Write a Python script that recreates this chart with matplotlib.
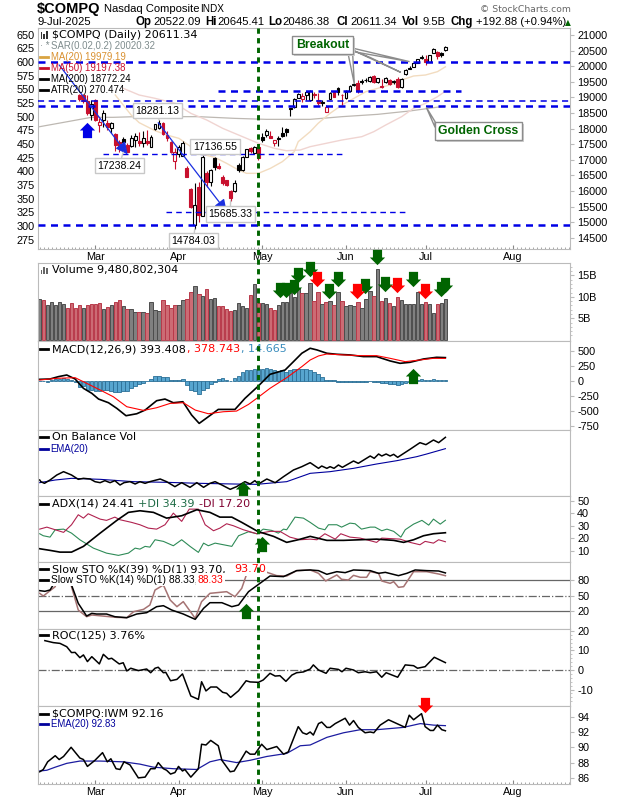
import matplotlib
matplotlib.use('Agg')
import matplotlib.pyplot as plt
import numpy as np
from matplotlib.lines import Line2D
from matplotlib.patches import Polygon, Rectangle
from matplotlib.path import Path

W, H = 620, 800

# candles start at bar 10, the earlier ones sit behind the legend
candle_start = 10
opens = [19076, 19076, 18893, 18434, 18915, 18114, 18274, 18178, 18018, 17825, 17569, 17665, 17472, 17440, 17633, 17601, 17536, 17610, 17418, 17976,
         18018, 18178, 17793, 17578, 16969, 17184, 17129, 16744, 16061, 14907, 16135, 15205, 16584, 16295, 17055, 16799, 16456, 16350, 15997, 15997,
         16831, 16671, 17097, 17367, 17206, 17418, 17738, 17793, 17771, 17527, 17707, 17867, 17986, 18659, 18700, 18989, 18948, 19076, 18915, 19108,
         18925, 18851, 18540, 18948, 19162, 19310, 19085, 18970, 19214, 19387, 19470, 19512, 19566, 19525, 19685, 19502, 19364, 19483, 19557, 19525,
         19579, 19342, 19749, 19942, 19983, 20112, 20294, 20221, 20144, 20432, 20455, 20413, 20522]
highs = [19108, 19108, 19076, 18915, 18948, 18338, 18595, 18274, 18210, 17857, 17633, 17729, 17536, 17793, 17867, 17889, 17921, 17953, 17793, 18146,
         18281, 18210, 17921, 17601, 17376, 17472, 17601, 16799, 16093, 16254, 16295, 17136, 16639, 16703, 17088, 16896, 16510, 16350, 16029, 16350,
         16896, 17120, 17335, 17408, 17440, 17440, 17857, 17986, 17921, 17633, 17761, 18050, 18018, 18659, 18980, 19140, 19140, 19204, 19236, 19172,
         19140, 18915, 18755, 19172, 19204, 19348, 19092, 19236, 19396, 19461, 19557, 19579, 19621, 19685, 19717, 19621, 19589, 19653, 19589, 19557,
         19643, 19605, 19894, 20006, 20134, 20230, 20359, 20359, 20359, 20567, 20487, 20439, 20645]
lows = [18883, 18819, 18434, 18274, 18242, 17899, 18059, 17953, 17857, 17280, 17240, 17312, 17238, 17398, 17408, 17440, 17408, 17472, 17408, 17953,
        17985, 17809, 17601, 17216, 16703, 17088, 17120, 16446, 15452, 14784, 15013, 15195, 16125, 16157, 16671, 16703, 16190, 16157, 15685, 15965,
        16606, 16639, 17088, 17216, 17184, 16991, 17569, 17729, 17697, 17440, 17440, 17729, 17761, 18402, 18659, 18980, 18851, 18915, 18883, 18980,
        18755, 18723, 18530, 18932, 19012, 19076, 18755, 18948, 19172, 19364, 19150, 19429, 19493, 19493, 19461, 19470, 19300, 19461, 19397, 19429,
        19300, 19300, 19733, 19900, 19974, 20086, 20221, 20038, 20134, 20423, 20221, 20310, 20486]
closes = [18938, 18883, 18489, 18787, 18274, 18220, 18508, 18050, 18178, 17472, 17376, 17559, 17250, 17707, 17761, 17536, 17697, 17527, 17739, 18136,
          18178, 17815, 17697, 17257, 17248, 17418, 17546, 16456, 15494, 15549, 15227, 17097, 16295, 16671, 16757, 16725, 16244, 16190, 15763, 16244,
          16671, 17097, 17335, 17289, 17418, 17046, 17633, 17921, 17707, 17633, 17675, 17761, 17880, 18627, 18938, 19098, 19053, 19172, 19188, 19076,
          18810, 18835, 18700, 19130, 19021, 19182, 19069, 19182, 19364, 19429, 19236, 19493, 19547, 19643, 19502, 19611, 19332, 19631, 19429, 19493,
          19342, 19579, 19878, 19923, 20112, 20221, 20275, 20134, 20349, 20541, 20327, 20343, 20611]

ma20_x = [19, 21, 23, 25, 29, 32, 35, 38, 40, 44, 47, 50, 52, 55, 58, 61, 64, 65, 68, 70, 73, 76, 79, 82, 85, 88, 91, 94, 97, 100, 102]
ma20_vals = [19076, 18755, 18434, 18189, 17932, 17793, 17686, 17419, 17205, 17077, 16884, 16670, 16564, 16564, 16724, 16938, 17258, 17579, 17900, 18167,
             18488, 18755, 18969, 19183, 19290, 19397, 19557, 19685, 19717, 19824, 19979]
ma50_x = [21, 25, 29, 34, 38, 42, 46, 50, 55, 59, 62, 65.5, 68, 72, 76, 81, 84, 87, 91, 94, 97, 100, 102]
ma50_vals = [19290, 19076, 18969, 18809, 18488, 18274, 18007, 17793, 17526, 17366, 17290, 17312, 17419, 17526, 17633, 17740, 17900, 18114, 18381, 18648, 18809, 19022, 19197]
ma200_x = [0, 7, 13, 18.5, 24, 32, 40, 49, 57, 68, 76, 85, 93, 102]
ma200_vals = [18060, 18221, 18360, 18360, 18381, 18381, 18381, 18327, 18295, 18295, 18381, 18456, 18563, 18720]

full_levels = [20144, 18733, 14909]
thin_full_levels = [18874]
short_levels = [19214]
short_levels_span = [(44.8, 106)]
thin_short_levels = [17175, 15332]
thin_short_span = [(16, 76.8), (31.8, 92.9)]

trend_starts = [(4.9, 20038), (29.8, 18188)]
trend_ends = [(22.1, 17173), (47, 15334)]

price_notes = ['18281.13', '17238.24', '17136.55', '15685.33', '14784.03']
note_targets = [(30, 18281), (21, 17238), (41, 17136), (48, 15685), (39, 14784)]
note_places = [(29.6, 18573), (20, 16810), (44.1, 17419), (47.9, 15260), (38.6, 14404)]

breakout_tails = [[(77.6, 20359), (78.7, 20359), (79.1, 19429)],
                  [(78.9, 20572), (78.9, 20465), (93, 20145)],
                  [(78.9, 20500), (83, 20284), (90.8, 19800)]]
golden_tail = [(99.4, 18221), (99.4, 18039), (97.2, 18680)]

volumes = [9.6, 9.2, 8.2, 8.7, 8.2, 8.8, 8.4, 7.5, 8.6, 7.5, 8.1, 7.3, 8.0, 8.4, 8.4, 8.6, 7.2, 7.7, 8.0, 8.8,
           9.2, 7.9, 7.1, 7.2, 6.5, 6.5, 6.5, 6.3, 8.8, 7.0, 6.7, 9.2, 8.0, 7.3, 8.0, 8.0, 9.2, 9.6, 11.2, 12.6,
           10.6, 10.2, 11.9, 9.6, 9.8, 7.8, 7.8, 7.2, 6.7, 6.9, 8.6, 7.8, 7.4, 10.5, 13.0, 8.6, 8.6, 8.4, 7.3, 7.0,
           8.2, 8.7, 8.8, 10.8, 10.0, 12.0, 10.8, 10.8, 13.3, 9.1, 11.2, 8.3, 8.8, 9.1, 8.2, 11.2, 9.1, 7.9, 8.1, 7.9,
           8.8, 7.4, 9.5, 11.4, 10.2, 16.6, 9.1, 9.8, 8.6, 7.8, 10.0, 9.3, 8.4, 8.4, 8.4, 11.2, 8.4, 8.8, 8.4, 6.3,
           8.4, 8.6, 9.48]
down_days = [1, 7, 8, 9, 10, 12, 13, 14, 15, 17, 19, 20, 22, 25, 27, 31, 32, 33, 34, 37, 38, 40, 42, 45, 46, 47, 48, 53, 55, 58, 59,
             66, 69, 70, 72, 74, 76, 80, 84, 86, 88, 90, 97, 100]
vol_green_x = [60.3, 62, 64, 65, 68, 72.8, 74.9, 81.8, 84.9, 86.9, 93.9, 100.8, 101.9]
vol_green_y = [11.7, 11.7, 12.2, 15, 16.5, 11.4, 14.1, 12.5, 19.4, 13, 14.1, 11.8, 12.7]
vol_red_x = [69.8, 79.7, 89.9, 96.9]
vol_red_y = [14.1, 11.4, 12.7, 11.4]

macd_x = [0, 2.6, 4.7, 6.8, 8.9, 11, 13.1, 14.8, 17.3, 19.4, 21.7, 24.4, 26.5, 29.4, 31.5, 33.6, 36, 38.2, 40.1, 42.4, 44.9, 47, 49.1, 51.6, 54.8, 57.9, 61.7, 63.8, 65.9, 68,
          69.7, 72.2, 74.7, 78, 81.4, 84.7, 88.1, 90.6, 93.1, 96.5, 99.8, 102]
macd_vals = [28, 34, 73, 101, 34, -123, -207, -303, -365, -460, -583, -550, -488, -331, -303, -365, -348, -572, -712, -600, -477, -477, -477, -292, -95, 112, 185, 325, 466, 550,
             522, 466, 449, 438, 410, 410, 337, 297, 314, 370, 398, 393]
signal_x = [0, 4.3, 8.9, 11.8, 15.2, 18.5, 21.9, 26.1, 29.4, 32.8, 36.1, 39.1, 42.4, 46.2, 49.5, 52.5, 54.8, 57.9, 62.1, 65.9, 68,
            70.1, 72.2, 76.4, 80.6, 84.7, 88.1, 91.9, 95.6, 99, 102]
signal_vals = [17, 45, 56, -39, -151, -264, -432, -494, -449, -376, -365, -488, -550, -516, -505, -393, -280, -123, 56, 241, 353,
               421, 454, 438, 426, 426, 381, 325, 353, 381, 379]
macd_hist = [0, 0, -22, 22, 34, 34, 45, 34, 22, -22, -101, -78, -152, -152, -168, -168, -152, -152, -168, -180,
             -191, -168, -168, -123, -79, -45, -34, 0, 34, 90, 90, 73, 62, 22, 11, 22, 34, -67, -151, -168,
             -224, -151, -112, -56, -11, 34, 45, 22, 0, 56, 90, 157, 179, 185, 196, 196, 202, 213, 196, 185,
             174, 185, 146, 185, 202, 196, 196, 196, 185, 157, 112, 62, 11, 11, 11, -11, -17, -17, -17, -17,
             -17, -17, -17, -6, -17, -22, -34, -34, -45, -50, -67, -56, -34, -17, 6, 11, 34, 11, 11, 34,
             11, 11, 14.7]

# On Balance Volume has no scale in the picture, so these are relative units
obv_x = [0, 0.3, 1.2, 2.6, 4.3, 6, 8, 9.7, 11, 12.7, 13.9, 15.2, 16.4, 17.7, 18.9, 20.2, 21.2, 22.7, 24, 25.2, 26.5, 27.7, 30.3, 31.9, 34, 35.7, 37.8, 39.5, 41.2, 42.8, 44.1, 45.8, 47.9, 49.5, 51.6, 52.9, 54.1, 55, 57.1, 59.2, 61.3, 63.8, 65.9, 68,
         70.1, 70.9, 72.2, 73, 74, 75.1, 76.1, 78.9, 80.1, 83.1, 84.1, 85.2, 86, 87.1, 88.1, 89, 90, 93.1, 95.6, 97.1, 99, 100.3, 102]
obv_vals = [48, 43, 38, 48, 63, 73, 63, 50, 53, 51, 43, 40, 46, 40, 46, 33, 40, 43, 36, 43, 38, 43, 51, 43, 28, 40, 26, 40, 26, 38, 43, 33, 20, 28, 43, 36, 46, 36, 51, 40, 58, 78, 88, 100,
            83, 90, 83, 88, 83, 93, 86, 105, 98, 120, 113, 126, 120, 126, 120, 125, 116, 140, 160, 154, 168, 160, 176]
obv_ema_x = [0, 3.9, 8, 15.2, 23.6, 31.9, 40.3, 48.7, 54.6, 59.2, 62.1, 68, 73, 78.9, 84.7, 89.8, 94.8, 97.3, 102]
obv_ema_vals = [40, 48, 53, 50, 43, 41, 38, 36, 35, 40, 43, 68, 73, 83, 96, 106, 118, 126, 142]

adx_x = [0, 2.6, 5.1, 8, 11, 15.2, 19.4, 22.3, 25.2, 28.6, 31.9, 35.7, 39.5, 42.8, 45.3, 48.3, 50.8, 54.8, 58.8, 62.1, 65, 68, 72.2, 76.4, 80.6, 84.7, 89, 91.5, 94, 96.5, 99, 102]
adx_vals = [11.6, 10.3, 8.9, 8.9, 13.5, 24.1, 34.3, 40.7, 42, 40.7, 36.1, 38, 42.8, 40.7, 36.9, 36.9, 32.7, 25.5, 21.5, 16.7, 18.8, 21.5, 18.3, 18.3, 18.8, 19.3, 18.3, 16.7, 18.8, 22, 23.6, 24.41]
pdi_x = [0, 0.9, 2.6, 3.9, 6, 8, 10.1, 13.5, 16.8, 19.8, 22.3, 24, 25.2, 26.5, 27.7, 29, 31.1, 33.6, 35.7, 37.8, 39.9, 41.2, 42.4, 44.1, 46.2, 48.3, 50, 52.5, 54.6, 56.2, 58.3, 60, 61.3, 62.1, 64.2, 66.3, 68,
         70.1, 71.7, 72.6, 74.7, 75.9, 78, 79.3, 80.9, 83.1, 84.3, 86, 87.3, 89, 90.8, 91.9, 94, 96.1, 97.8, 99, 100.7, 102]
pdi_vals = [23.6, 22, 20.9, 26.8, 27.3, 24.1, 18.8, 12.1, 8.1, 6.3, 8.1, 12.1, 11.3, 13.5, 12.9, 18.8, 17.5, 14, 18.8, 13.5, 8.7, 16.1, 14, 16.1, 14.8, 13.5, 22, 25.2, 23.6, 27.3, 26.3, 24.1, 27.3, 26.8, 36.9, 36.1, 32.7,
            28.1, 26.8, 30.8, 30.8, 28.9, 32.1, 31.6, 27.3, 28.9, 28.9, 26, 27.3, 25.5, 20.9, 26.8, 31.3, 34.3, 30.5, 35.3, 31.3, 34.39]
mdi_x = [0, 1.8, 3.9, 6, 8, 9.7, 11, 12.2, 15.2, 16.8, 18.9, 20.2, 23.1, 25.2, 27.3, 29.4, 31.5, 33.6, 35.7, 37.6, 39.9, 41.6, 43.7, 45.3, 47, 48.7, 51.2, 54.6, 57.9, 60.4, 62.9, 65.5, 68,
         69.7, 71.7, 74.3, 75.7, 78, 80.6, 84.7, 86, 90.6, 93.1, 95.6, 96.9, 99, 100.3, 102]
mdi_vals = [27.3, 28.9, 26.8, 24.7, 30.8, 38.8, 36.1, 39.6, 35.3, 34.3, 36.9, 34.8, 32.7, 30.8, 28.1, 27.3, 30.8, 40.1, 33.5, 43.3, 43.3, 30.8, 26, 28.1, 31.6, 30, 26.8, 23.6, 25.5, 25.5, 20.9, 18.8, 19.3,
            18.8, 23.6, 19.3, 23.6, 20.9, 20.1, 16.7, 20.1, 19.3, 16.7, 14.8, 17.5, 16.1, 18.8, 17.2]

sto39_x = [0, 1.3, 2.6, 3.9, 4.7, 7.2, 8, 9.7, 11.8, 13.1, 14.3, 16.8, 18.9, 21.9, 24.4, 26.9, 29.4, 31.1, 33.2, 36.1, 39.1, 41.2, 42.8, 45.8, 48.3, 50, 52.5, 54.8, 57.9, 61.3, 64.6, 68,
           70.1, 72.2, 74.7, 76.8, 78.9, 83.1, 85.2, 86.9, 90.2, 92.3, 94.4, 97.3, 100.3, 102]
sto39_vals = [59.4, 58.1, 60.6, 76.8, 96, 96, 70.3, 34.8, 10.3, 15.5, 14.2, 14.2, 9, 7.1, 14.2, 16.8, 28.4, 30.3, 21.9, 14.2, 3.9, 25.2, 36.1, 36.1, 28.4, 31.6, 57.4, 70.3, 87.7, 86.5, 98.1, 99.4,
              98.1, 91, 96.1, 94.2, 99.4, 98.1, 92.9, 94.8, 88.4, 92.9, 99.4, 98.1, 97.4, 93.7]
sto14_x = [0, 0.9, 3.9, 4.7, 7.2, 8, 9.7, 11.8, 13.1, 19.4, 21.9, 23.6, 26.1, 27.7, 29, 31.1, 32.8, 34.5, 36.1, 39.1, 40.7, 42.8, 47, 49.1, 50.8, 52.1, 54.1, 56.7, 59.6, 62.1, 64.6, 68,
           70.1, 71.9, 74.7, 75.9, 77.6, 78.9, 80.6, 82.2, 83.1, 85.2, 86, 88.1, 89, 90.2, 91.5, 94, 97.3, 100.3, 102]
sto14_vals = [54.2, 49, 67.1, 92.9, 92.9, 67.1, 21.9, 9, 12.3, 7.7, 7.1, 18.7, 23.2, 31.6, 60.6, 70.3, 41.3, 28.4, 38.1, 5.8, 38.1, 54.2, 57.4, 47.7, 63.9, 92.9, 96, 96, 88.4, 87.7, 98.1, 99.4,
              92.9, 78.1, 89.7, 81.3, 80, 89, 85.2, 85.2, 96.1, 92.9, 78.1, 73.5, 76.8, 65.8, 67.1, 96.1, 96.1, 91.6, 88.33]

roc_x = [1.3, 3.4, 5.1, 6.8, 8, 8.9, 10.1, 11, 12, 13.1, 15, 16, 17.3, 18.1, 20, 21, 21.9, 22.9, 24.8, 26.9, 27.9, 29, 29.8, 31.1, 31.7, 32.9, 34.5, 35.9, 38, 39.9, 40.7, 41.8, 43, 44.5, 46, 47, 48, 50, 51.9, 52.9, 55, 56.2, 57.9, 59.2, 60.4, 61.9, 63.4, 64.6, 66.3, 68,
         68.8, 70.1, 72, 73, 75.1, 76, 77, 78.9, 80.1, 81.8, 83.1, 84.7, 86, 87.1, 90, 91.9, 94, 95, 96.9, 99.2, 102]
roc_vals = [15, 14, 13.6, 11.9, 8.9, 9, 6.3, 7.7, 4.3, 6.8, 3.1, 8, 5.6, 6, 3.1, 3.7, -0.5, 0.9, -0.3, 0.5, -1.4, 0.9, 1.4, -1.4, -1.2, -5.5, -4.8, -2, -13.3, -15, -6, -10.7, -8.7, -8.7, -11.4, -11.9, -14, -10.6, -5.5, -6.1, -6.3, -5.1, -1.7, -3.1, -2.9, -5.8, -2.6, -1.4, -1, 0.5,
            2.6, 0, -1.7, 0.9, 0.3, -0.9, 0.9, 0, -1.4, -0.9, -1.4, -0.9, -3.7, -1.4, -3.7, 2.6, 2.2, 0.9, 1.7, 6.5, 3.76]

ratio_x = [0, 0.9, 2, 3.9, 4.9, 6, 7.9, 10.1, 11, 12, 13.9, 15.8, 17, 17.9, 19.2, 20.2, 21.2, 22.7, 24.8, 26.5, 27.9, 29, 29.8, 31.1, 31.9, 32.9, 34, 34.9, 35.9, 36.5, 38, 39.9, 40.7, 41.8, 43, 44.9, 45.8, 47.9, 48.9, 51.9, 52.9, 54.1, 55.8, 57.1, 59.6, 61.3, 62.5, 65, 66.1, 67.1, 68,
           68.8, 70.1, 70.9, 72.2, 73, 74.3, 76.8, 77.9, 78.9, 80.1, 81.8, 83.1, 84, 85.6, 87.7, 91.9, 92.9, 94, 96, 96.9, 98.2, 99, 100, 101.1, 102]
ratio_vals = [86.8, 87.1, 88.1, 88.9, 88.4, 88.8, 90, 88.6, 88.4, 87.5, 88.3, 89.3, 88.1, 88.5, 87.2, 87.1, 88.1, 87.7, 86, 86.1, 87.2, 87.2, 88, 87.2, 87, 86.5, 86.7, 87.5, 86.9, 87.1, 86.1, 87.2, 90.4, 90.3, 90.9, 90.2, 88.3, 86.8, 86.9, 89.5, 89.1, 89.1, 90.4, 89.7, 90.1, 89.1, 89.4, 92.7, 91.9, 91.7, 92,
              91.6, 93.1, 93.3, 92.6, 92.6, 93.1, 93.8, 92.9, 93.5, 92.6, 91.9, 92, 91.9, 92.9, 93.6, 92.6, 94.2, 93.6, 94.4, 92.7, 92.2, 92.2, 92.9, 92.3, 92.16]
ratio_ema_x = [0, 1.8, 3.9, 6.8, 10.1, 15.2, 21, 25.2, 28.6, 33.6, 39.5, 42.8, 45.3, 49.5, 52.9, 57.1, 62.1, 65.5, 68, 72.2, 76.4, 80.6, 84.7, 91.4, 95.7, 99, 102]
ratio_ema_vals = [86.9, 87, 87.4, 87.9, 88.2, 88.2, 88.1, 87.8, 87.4, 87.2, 87.1, 88.1, 88.4, 88, 88.3, 88.8, 89.2, 90.2, 90.3, 91.3, 91.9, 92.3, 92.3, 92.6, 93.1, 92.9, 92.83]

month_labels = ['Mar', 'Apr', 'May', 'Jun', 'Jul', 'Aug']
month_bars = [14, 35, 56, 77, 97, 119]
event_bar = 54.85

BLUE = '#0000e6'
GREEN = '#006400'
RED = '#c8102e'
SPINE = '#bbbbbb'
XLIM = (-0.5, 133.4)

# down arrow outline, flipped for the up arrows
arrow_pts = [(-4.5, 7.5), (4.5, 7.5), (4.5, 0), (7.5, 0), (0, -7.5), (-7.5, 0), (-4.5, 0), (-4.5, 7.5)]
DOWN = Path(arrow_pts, closed=True)
UP = Path([(x, -y) for x, y in arrow_pts], closed=True)


def panel(top, bottom, ylim):
    ax = fig.add_axes([37.7 / W, 1 - bottom / H, (570.3 - 37.7) / W, (bottom - top) / H])
    ax.set_xlim(*XLIM)
    ax.set_ylim(*ylim)
    for s in ax.spines.values():
        s.set_color(SPINE)
    ax.yaxis.tick_right()
    ax.tick_params(axis='y', which='major', length=3, color=SPINE, labelsize=7.8, pad=2)
    ax.tick_params(axis='y', which='minor', length=1.5, color=SPINE)
    ax.tick_params(axis='x', which='both', bottom=False, labelbottom=False)
    return ax


def month_axis(ax):
    ax.set_xticks(month_bars)
    ax.set_xticklabels(month_labels)
    ax.set_xticks(np.arange(0, 134), minor=True)
    ax.tick_params(axis='x', which='major', bottom=True, labelbottom=True, direction='in', length=3, color='#888888', labelsize=7.8, pad=2)
    ax.tick_params(axis='x', which='minor', bottom=True, direction='in', length=1.5, color='#999999')


def arrows(ax, x, y, marker, color):
    ax.plot(x, y, ls='none', marker=marker, ms=11, mfc=color, mec='none', clip_on=False, zorder=6)


def label(x, y, text, color='black', size=8.0, family='DejaVu Sans', weight='normal', box=False):
    kw = {}
    if box:
        kw['bbox'] = dict(fc='white', ec='none', pad=1)
    fig.text(x / W, 1 - y / H, text, color=color, fontsize=size, family=family, fontweight=weight, va='center', **kw)


def dash(y, color='black'):
    fig.add_artist(Line2D([40 / W, 48 / W], [1 - y / H, 1 - y / H], color=color, lw=2, zorder=4))


def small(x, y, text, color='black', box=False, size=6.9):
    label(x, y, text, color=color, size=size, family='Liberation Sans', box=box)


def icon(y, heights, color):
    # little bar glyph in front of a legend row
    for k, h in enumerate(heights):
        fig.add_artist(Rectangle(((40.5 + 2.6 * k) / W, 1 - (y + 4) / H), 1.9 / W, h / H, fc=color, ec='none', zorder=4))


plt.rcParams['font.family'] = ['Liberation Sans', 'DejaVu Sans']
plt.rcParams['axes.unicode_minus'] = False
fig = plt.figure(figsize=(W / 100, H / 100), dpi=100)

# price panel
ax = panel(28, 249, (14138, 21224))
ax.set_yticks(np.arange(14500, 21001, 500))
month_axis(ax)

ax.plot(ma200_x, ma200_vals, color='#bdb8b2', lw=0.9)
ax.plot(ma50_x, ma50_vals, color='#f0d4d1', lw=1)
ax.plot(ma20_x, ma20_vals, color='#f2dcc0', lw=1)

bars = np.arange(len(closes)) + candle_start
for i, b in enumerate(bars):
    edge = RED if i == 0 or closes[i] < closes[i - 1] else 'black'
    face = edge if closes[i] < opens[i] else 'white'
    ax.vlines(b, lows[i], highs[i], color=edge, lw=0.8, zorder=3)
    ax.bar(b, abs(closes[i] - opens[i]), bottom=min(closes[i], opens[i]), width=0.72, facecolor=face, edgecolor=edge, lw=0.8, zorder=4)

for lvl in full_levels:
    ax.axhline(lvl, color=BLUE, lw=1.8, dashes=(2.8, 2.2), zorder=5)
for lvl in thin_full_levels:
    ax.axhline(lvl, color=BLUE, lw=1.1, dashes=(4, 3), zorder=5)
for lvl, span in zip(short_levels, short_levels_span):
    ax.plot(span, [lvl, lvl], color=BLUE, lw=1.8, dashes=(2.8, 2.2), zorder=5)
for lvl, span in zip(thin_short_levels, thin_short_span):
    ax.plot(span, [lvl, lvl], color=BLUE, lw=1, dashes=(4, 3), zorder=5)

for a, b in zip(trend_starts, trend_ends):
    ax.annotate('', xy=b, xytext=a, zorder=6,
                arrowprops=dict(arrowstyle='-|>', color='#1a2fe0', lw=0.9, mutation_scale=18, shrinkA=0, shrinkB=0))
arrows(ax, [12], [17953], UP, BLUE)

for text, target, place in zip(price_notes, note_targets, note_places):
    ax.annotate(text, xy=target, xytext=place, ha='center', va='center', fontsize=7.6, zorder=7,
                bbox=dict(boxstyle='square,pad=0.25', fc='white', ec='#c8c8c8', lw=1),
                arrowprops=dict(arrowstyle='-', color='#c8c8c8', lw=1, shrinkA=0, shrinkB=0))

for tail in breakout_tails + [golden_tail]:
    ax.add_patch(Polygon(tail, closed=True, fc='white', ec='#8c8c8c', lw=1, zorder=7))

for x0, y0, x1, y1, text in [(292, 36, 353, 54, 'Breakout'), (435, 122, 522, 140, 'Golden Cross')]:
    fig.add_artist(Rectangle((x0 / W + 0.003, 1 - y1 / H - 0.0025), (x1 - x0) / W, (y1 - y0) / H, fc='#cfcfcf', ec='none', zorder=3))
    fig.add_artist(Rectangle((x0 / W, 1 - y1 / H), (x1 - x0) / W, (y1 - y0) / H, fc='white', ec='#8c8c8c', lw=1, zorder=3))
    fig.text((x0 + x1) / 2 / W, 1 - (y0 + y1) / 2 / H, text, color=GREEN, fontweight='bold', fontsize=8.8, ha='center', va='center', zorder=4)

# ATR scale on the left side of the price panel, twinx moves the price ticks so put them back
atr_ax = ax.twinx()
atr_ax.set_ylim(258, 662)
atr_ax.set_yticks(np.arange(275, 651, 25))
atr_ax.yaxis.tick_left()
atr_ax.tick_params(axis='y', length=0, labelsize=7.8, pad=2)
for s in atr_ax.spines.values():
    s.set_visible(False)
ax.yaxis.tick_right()

# volume panel
ax = panel(263, 341, (-0.3, 17.9))
ax.set_yticks([5, 10, 15])
ax.set_yticklabels(['5B', '10B', '15B'])
ax.set_yticks(np.arange(1, 18), minor=True)
for i, v in enumerate(volumes):
    down = i in down_days
    ax.bar(i, v, width=0.86, facecolor='#cc6b74' if down else '#808080', edgecolor='#b83a4a' if down else '#4d4d4d', lw=0.7)
arrows(ax, vol_green_x, vol_green_y, DOWN, GREEN)
arrows(ax, vol_red_x, vol_red_y, DOWN, '#ff0000')

# MACD panel
ax = panel(341, 430, (-823, 672))
ax.set_yticks([-750, -500, -250, 0, 250, 500])
ax.bar(np.arange(len(macd_hist)), macd_hist, width=0.92, facecolor='#57a5cf', edgecolor='#2b6f97', lw=0.6)
ax.plot(macd_x, macd_vals, color='black', lw=1.2, zorder=4)
ax.plot(signal_x, signal_vals, color='#ff0000', lw=0.8, zorder=4)
arrows(ax, [93.9], [90], UP, GREEN)

# on balance volume panel
ax = panel(430, 496, (0, 198))
ax.set_yticks([])
ax.plot(obv_ema_x, obv_ema_vals, color='#00009c', lw=0.8)
ax.plot(obv_x, obv_vals, color='black', lw=1.1)
arrows(ax, [51], [21], UP, GREEN)

# ADX panel
ax = panel(496, 562, (1, 53.8))
ax.set_yticks([10, 20, 30, 40, 50])
ax.plot(pdi_x, pdi_vals, color='#2e8b57', lw=0.8)
ax.plot(mdi_x, mdi_vals, color='#b0224f', lw=0.8)
ax.plot(adx_x, adx_vals, color='black', lw=1.2)
arrows(ax, [55.8], [15.3], UP, GREEN)

# stochastics panel
ax = panel(562, 628.7, (-14.2, 114.8))
ax.set_yticks([20, 50, 80])
ax.axhline(80, color='#666666', lw=0.9)
ax.axhline(20, color='#666666', lw=0.9)
ax.axhline(50, color='#666666', lw=0.9, ls='-.')
ax.plot(sto14_x, sto14_vals, color='#a57373', lw=1.1)
ax.plot(sto39_x, sto39_vals, color='black', lw=1.1)
arrows(ax, [51.9], [20.6], UP, GREEN)

# rate of change panel
ax = panel(628.7, 706, (-18.4, 21.1))
ax.set_yticks([-10, 0, 10, 20])
ax.set_yticks(np.arange(-16, 21, 2), minor=True)
ax.axhline(0, color='#666666', lw=0.9, ls='-.')
ax.plot(roc_x, roc_vals, color='black', lw=1.1)

# ratio panel
ax = panel(706, 784, (85.2, 95.4))
ax.set_yticks([86, 88, 90, 92, 94])
month_axis(ax)
ax.plot(ratio_ema_x, ratio_ema_vals, color='#1c1ca0', lw=0.9)
ax.plot(ratio_x, ratio_vals, color='black', lw=1.1)
arrows(ax, [96.9], [95.5], DOWN, '#ff0000')

# event line runs through every panel
over = fig.add_axes([37.7 / W, 1 - 784 / H, (570.3 - 37.7) / W, (784 - 28) / H], zorder=5)
over.set_xlim(*XLIM)
over.axis('off')
over.axvline(event_bar, color=GREEN, lw=2.1, dashes=(1.8, 1.5))

# header
label(37, 9, '$COMPQ', size=10.5, family='Liberation Sans', weight='bold')
label(104, 9.5, 'Nasdaq Composite', size=8.1, family='Liberation Sans')
label(200, 9.5, 'INDX', size=7.2, family='Liberation Sans')
label(37, 22, '9-Jul-2025', size=8.1, family='Liberation Sans')
for x, text in [(136, 'Op'), (205, 'Hi'), (268.7, 'Lo'), (336.7, 'Cl'), (401.7, 'Vol'), (450.7, 'Chg')]:
    label(x, 22.3, text, size=8.3, family='Liberation Sans', weight='bold')
for x, text in [(153.7, '20522.09'), (217, '20645.41'), (282.7, '20486.38'), (350.7, '20611.34'), (422.7, '9.5B'), (475.7, '+192.88 (+0.94%)')]:
    label(x, 22.3, text, size=8.1, family='Liberation Sans')
label(565, 23, '\u25b2', color=GREEN, size=5.5)
label(480.5, 9.7, '\u00a9 StockCharts.com', color='#666666', size=6.7)

# legends
icon(35, [7, 5, 8], '#333333')
label(52, 35, '$COMPQ (Daily) 20611.34')
small(40, 46, '\u00b7 *', color='#7f8c8d')
small(50.7, 46, 'SAR(0.02,0.2) 20020.32', color='#7f8c8d')
dash(57.3, '#d9a441')
small(50.7, 57.3, 'MA(20) 19979.19', color='#d9902f')
dash(68.3, RED)
small(50.7, 68.3, 'MA(50) 19197.38', color=RED)
dash(79.3)
small(50.7, 79.3, 'MA(200) 18772.24')
dash(90)
small(50.7, 90, 'ATR(20) 270.474')

icon(270.3, [4, 7, 6], '#666666')
label(52, 270.3, 'Volume 9,480,802,304')
dash(349)
label(52, 349, 'MACD(12,26,9) 393.408')
label(187, 349, ', 378.743', color='#ff0000')
label(241, 349, ', 14.665', color='#3a8dbd')
dash(437.3)
label(52, 437.3, 'On Balance Vol')
dash(449, '#00009c')
small(50.7, 449, 'EMA(20)', color='#00009c')
dash(504)
label(52, 504, 'ADX(14) 24.41')
label(138, 504, '+DI 34.39', color='#1e6b45')
label(199, 504, '-DI 17.20', color='#800030')
dash(569.3)
label(52, 569.3, 'Slow STO %K(39) %D(1) 93.70,', box=True)
label(234, 569.3, '93.70', color='#ff0000', box=True)
dash(579.7)
small(50.7, 579.7, 'Slow STO %K(14) %D(1) 88.33,', box=True, size=7.4)
small(197.7, 579.7, '88.33', color='#ff0000', box=True, size=7.4)
dash(635.3)
label(52, 635.3, 'ROC(125) 3.76%')
dash(713.7)
label(52, 713.7, '$COMPQ:IWM 92.16')
dash(724.3, '#00009c')
small(50.7, 724.3, 'EMA(20) 92.83', color='#00009c')

fig.savefig('out.png', dpi=100)
